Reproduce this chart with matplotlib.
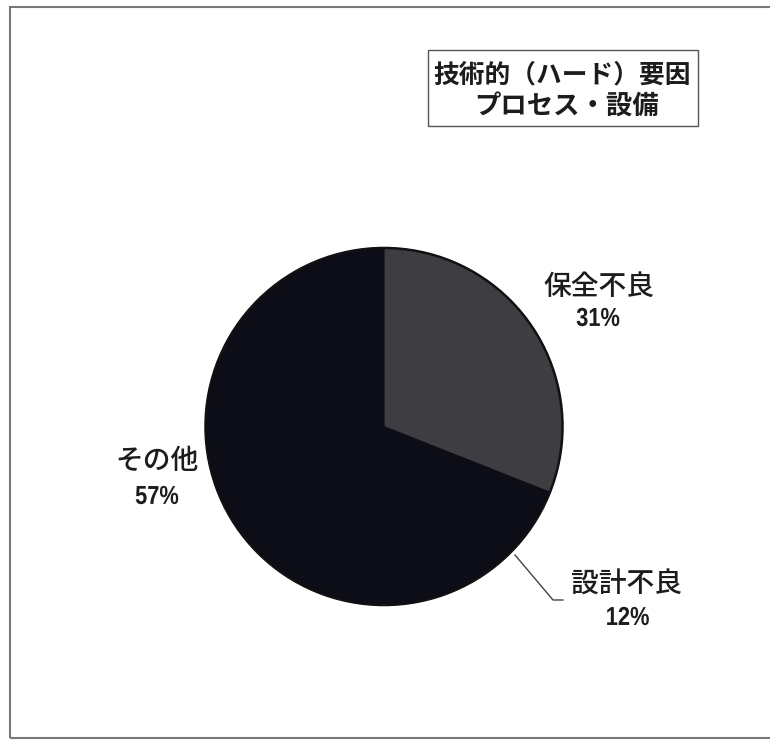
import matplotlib
matplotlib.use("Agg")
import matplotlib.pyplot as plt
from matplotlib.patches import Rectangle, Circle, PathPatch
from matplotlib.textpath import TextPath
from matplotlib.font_manager import FontProperties
from matplotlib.transforms import Affine2D

plt.rcParams['font.family'] = ['Noto Sans CJK JP', 'DejaVu Sans']

labels = ["保全不良", "設計不良", "その他"]
values = [31, 12, 57]
colors = ["#3e3e42", "#0d0d17", "#0d0d17"]
title_lines = ["技術的（ハード）要因", "プロセス・設備"]

W, H = 770, 741
fig = plt.figure(figsize=(W/100, H/100), dpi=100)
ax = fig.add_axes([0, 0, 1, 1])

def Y(y):
    return H - y

cx, cy, r = 384, Y(426.5), 178.5
wedges, _ = ax.pie(values, colors=colors, startangle=90, counterclock=False,
                   center=(cx, cy), radius=r, frame=True,
                   wedgeprops=dict(linewidth=0.8))
for w, c in zip(wedges, colors):
    w.set_edgecolor(c)
ax.add_patch(Circle((cx, cy), r, fill=False, edgecolor="#111111", lw=1.8))
ax.set_xlim(0, W)
ax.set_ylim(0, H)
ax.set_aspect('equal')
ax.axis('off')

# outer frame
ax.add_patch(Rectangle((10, Y(738)), 780, 731, fill=False, edgecolor="#777777", lw=1.5))

tc = "#1c1c1c"

def narrow_text(x, y, s, size_px, xscale, color=tc):
    fp = FontProperties(family='Liberation Sans', weight='bold')
    tp = TextPath((0, 0), s, size=size_px, prop=fp)
    bb = tp.get_extents()
    tr = (Affine2D().translate(-(bb.x0 + bb.x1) / 2, -(bb.y0 + bb.y1) / 2)
          .scale(xscale, 1).translate(x, y))
    ax.add_patch(PathPatch(tr.transform_path(tp), fc=color, ec='none'))

ax.text(599, Y(286), labels[0], ha='center', va='center', fontsize=20, fontweight='medium', color=tc)
narrow_text(598, Y(317), f"{values[0]}%", 26, 0.84)
ax.text(626, Y(584), labels[1], ha='center', va='center', fontsize=20, fontweight='medium', color=tc)
narrow_text(628, Y(616), f"{values[1]}%", 26, 0.84)
ax.text(157, Y(460), labels[2], ha='center', va='center', fontsize=20, fontweight='medium', color=tc)
narrow_text(157, Y(495), f"{values[2]}%", 26, 0.84)

# leader line
ax.plot([515, 553, 563], [Y(555), Y(600), Y(600)], color="#444444", lw=1)

# title box
ax.add_patch(Rectangle((428, Y(126)), 270, 76, fill=False, edgecolor="#555555", lw=1))
ax.text(562, Y(75), title_lines[0], ha='center', va='center', fontsize=18.5, fontweight='bold', color=tc)
ax.text(567, Y(106), title_lines[1], ha='center', va='center', fontsize=19, fontweight='bold', color=tc)

fig.savefig("out.png", dpi=100)
